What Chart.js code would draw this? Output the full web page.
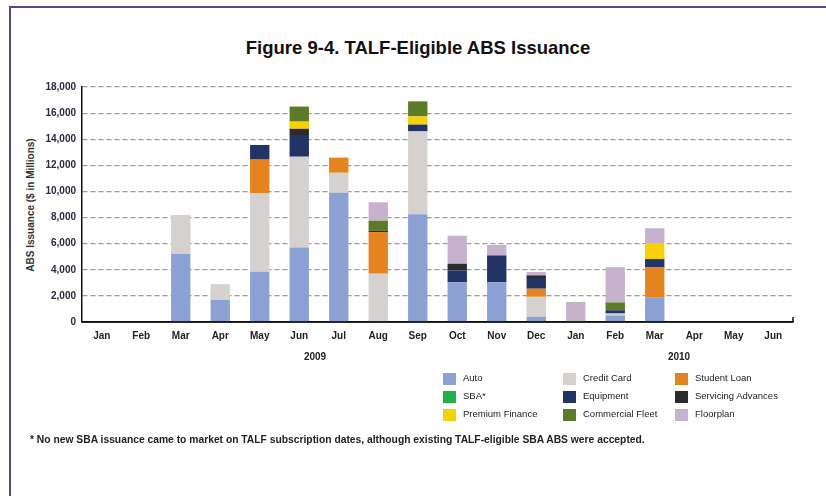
<!DOCTYPE html>
<html>
<head>
<meta charset="utf-8">
<script src="https://cdn.jsdelivr.net/npm/chart.js@4/dist/chart.umd.min.js"></script>
<style>
  html, body { margin: 0; padding: 0; background: #fff; }
  body { width: 826px; height: 496px; position: relative; overflow: hidden;
         font-family: "Liberation Sans Narrow", "Liberation Sans", Arial, sans-serif; color: #222; }
  #frameTop { position: absolute; left: 9px; top: 6px; width: 817px; height: 2px; background: #4b4b85; }
  #frameLeft { position: absolute; left: 9px; top: 6px; width: 2px; height: 490px; background: #4b4b85; }
  #title { position: absolute; left: 0; width: 836px; top: 37px; text-align: center;
           font-weight: bold; font-size: 18.5px; color: #111; }
  #ytitle { position: absolute; left: 30px; top: 205px; transform: translate(-50%, -50%) rotate(-90deg);
            white-space: nowrap; font-weight: bold; font-size: 10px; color: #333; }
  .year { position: absolute; top: 351px; font-weight: bold; font-size: 10px; transform: translateX(-50%); color: #222; }
  .leg { position: absolute; font-size: 9.5px; white-space: nowrap; color: #222; }
  .leg span.box { position: absolute; left: 0; top: 0; width: 13px; height: 12px; }
  .leg span.txt { position: absolute; left: 20px; top: -1px; }
  #foot { position: absolute; left: 30px; top: 434px; font-size: 10.3px; font-weight: bold; color: #222; white-space: nowrap; }
  canvas { position: absolute; left: 0; top: 0; }
</style>
</head>
<body>
<div id="frameTop"></div>
<div id="frameLeft"></div>
<div id="title">Figure 9-4. TALF-Eligible ABS Issuance</div>
<div id="ytitle">ABS Issuance ($ in Millions)</div>
<canvas id="c" width="826" height="496"></canvas>
<div class="year" style="left:315px">2009</div>
<div class="year" style="left:679px">2010</div>
<div id="legend"></div>
<div id="foot">* No new SBA issuance came to market on TALF subscription dates, although existing TALF-eligible SBA ABS were accepted.</div>
<script>
const months = ["Jan","Feb","Mar","Apr","May","Jun","Jul","Aug","Sep","Oct","Nov","Dec","Jan","Feb","Mar","Apr","May","Jun"];
const yearLabels = ["2009", "2010"];
const yTicks = [0, 2000, 4000, 6000, 8000, 10000, 12000, 14000, 16000, 18000];

const auto        = [0,0,5200,1700,3850,5700,9900,0,8250,3050,3050,400,0,500,1900,0,0,0];
const creditCard  = [0,0,3000,1200,6030,6960,1530,3700,6350,0,0,1530,0,150,0,0,0,0];
const studentLoan = [0,0,0,0,2560,0,1160,3190,0,0,0,620,0,0,2280,0,0,0];
const equipment   = [0,0,0,0,1120,1590,0,0,520,900,2050,820,0,250,640,0,0,0];
const servicing   = [0,0,0,0,0,550,0,100,0,510,0,200,0,0,0,0,0,0];
const sba         = [0,0,0,0,0,0,0,0,0,0,0,0,0,0,0,0,0,0];
const premium     = [0,0,0,0,0,550,0,0,630,0,0,0,0,0,1230,0,0,0];
const fleet       = [0,0,0,0,0,1150,0,770,1150,0,0,0,0,600,0,0,0,0];
const floorplan   = [0,0,0,0,0,0,0,1410,0,2150,800,260,1540,2700,1130,0,0,0];

const series = [
  { label: "Auto", data: auto, color: "#8ba1d4" },
  { label: "Credit Card", data: creditCard, color: "#d5d1ce" },
  { label: "Student Loan", data: studentLoan, color: "#e5831f" },
  { label: "Equipment", data: equipment, color: "#223366" },
  { label: "Servicing Advances", data: servicing, color: "#2b2b2b" },
  { label: "SBA*", data: sba, color: "#1db34b" },
  { label: "Premium Finance", data: premium, color: "#f6d200" },
  { label: "Commercial Fleet", data: fleet, color: "#5b7b27" },
  { label: "Floorplan", data: floorplan, color: "#c6b2cd" }
];

const legendLayout = [
  ["Auto", 443, 373], ["SBA*", 443, 391], ["Premium Finance", 443, 409],
  ["Credit Card", 563, 373], ["Equipment", 563, 391], ["Commercial Fleet", 563, 409],
  ["Student Loan", 675, 373], ["Servicing Advances", 675, 391], ["Floorplan", 675, 409]
];
const legendEl = document.getElementById("legend");
legendLayout.forEach(([name, x, y]) => {
  const s = series.find(d => d.label === name);
  const div = document.createElement("div");
  div.className = "leg";
  div.style.left = x + "px";
  div.style.top = y + "px";
  div.innerHTML = '<span class="box" style="background:' + s.color + '"></span><span class="txt">' + name + '</span>';
  legendEl.appendChild(div);
});

const axisEnd = {
  id: "axisEnd",
  afterDatasetsDraw(chart) {
    const { ctx, chartArea } = chart;
    ctx.save();
    ctx.strokeStyle = "#111";
    ctx.lineWidth = 1.5;
    ctx.beginPath();
    ctx.moveTo(chartArea.left, chartArea.bottom);
    ctx.lineTo(chartArea.right, chartArea.bottom);
    ctx.moveTo(chartArea.right, chartArea.bottom);
    ctx.lineTo(chartArea.right, chartArea.bottom - 5);
    ctx.stroke();
    ctx.restore();
  }
};

new Chart(document.getElementById("c"), {
  type: "bar",
  data: {
    labels: months,
    datasets: series.map(s => ({
      label: s.label,
      data: s.data,
      backgroundColor: s.color,
      borderWidth: 0,
      categoryPercentage: 1.0,
      barPercentage: 0.49
    }))
  },
  options: {
    responsive: false,
    animation: false,
    layout: { padding: { left: 10, right: 33, top: 87, bottom: 146 } },
    plugins: { legend: { display: false }, tooltip: { enabled: false } },
    scales: {
      x: {
        stacked: true,
        grid: { display: false, drawTicks: false },
        border: { display: true, color: "#111", width: 1.5 },
        ticks: { color: "#222", font: { family: "'Liberation Sans Narrow', 'Liberation Sans', Arial", size: 10, weight: "bold" }, padding: 8, maxRotation: 0, autoSkip: false },
        afterFit(s) { s.height = 28; }
      },
      y: {
        stacked: true,
        min: 0, max: 18000,
        afterBuildTicks(s) { s.ticks = yTicks.map(v => ({ value: v })); },
        grid: { color: "#9c9c9c", lineWidth: 1.2, drawTicks: false },
        border: { display: true, color: "#111", width: 1.5, dash: [5, 3] },
        ticks: {
          color: "#2a2a44",
          font: { family: "'Liberation Sans Narrow', 'Liberation Sans', Arial", size: 10, weight: "bold" },
          padding: 6,
          callback: v => v.toLocaleString("en-US")
        },
        afterFit(s) { s.width = 72; }
      }
    }
  },
  plugins: [axisEnd]
});
</script>
</body>
</html>
